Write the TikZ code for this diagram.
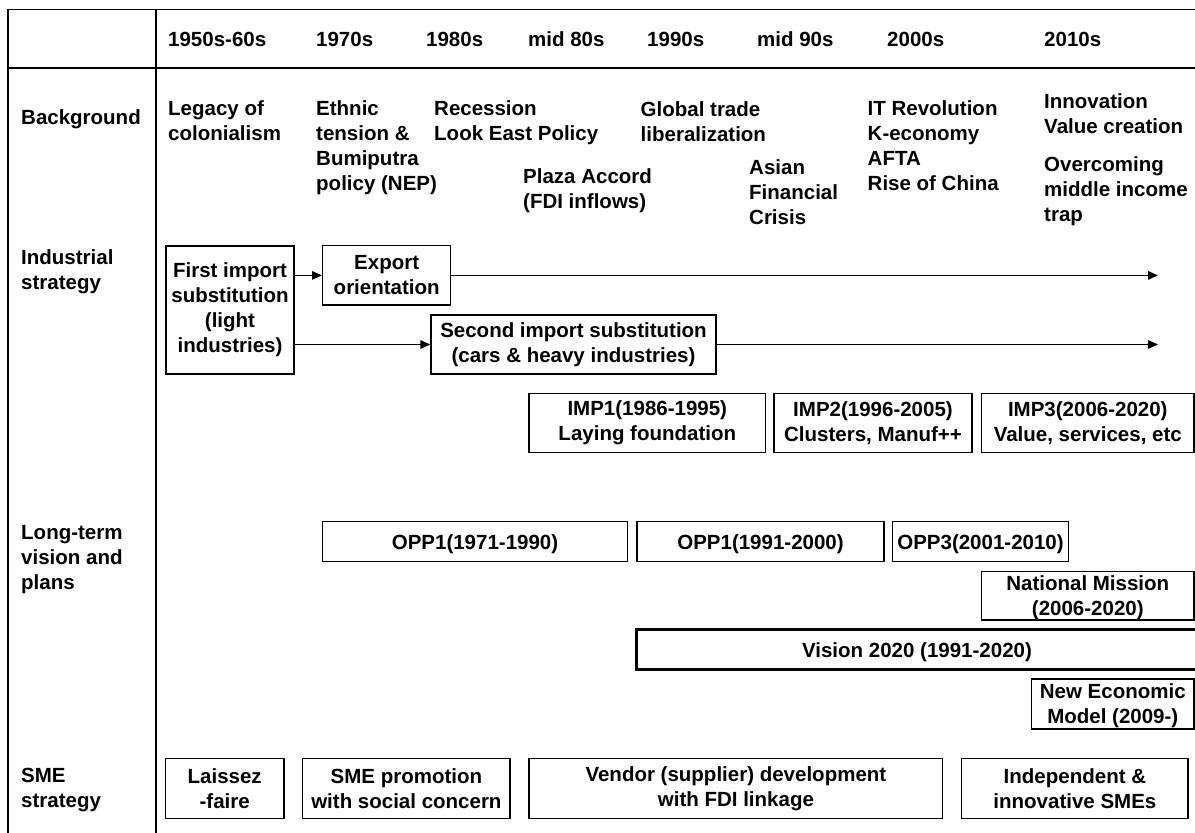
\documentclass[tikz,border=0pt]{standalone}
\usepackage{fontspec}
\setmainfont{Liberation Sans}
\usetikzlibrary{arrows.meta}
\tikzset{
  txt/.style={font=\bfseries\fontsize{20.5}{25}\selectfont, inner sep=0pt},
  lbl/.style={txt, align=left, anchor=north west},
  boxn/.style={txt, draw, line width=1.4pt, align=center, execute at begin node={\rule{0pt}{20.5pt}}},
  thickbox/.style={boxn, line width=3.5pt},
  grid/.style={line width=1.8pt},
  arr/.style={line width=1.3pt, -{Triangle[length=10pt,width=8.5pt]}}
}
\begin{document}
\begin{tikzpicture}[x=1pt,y=-1pt]
\useasboundingbox (0,0) rectangle (1195,833);
% table frame
\draw[grid] (1195,9.5) -- (8,9.5) -- (8,833);
\draw[grid] (8,68.3) -- (1195,68.3);
\draw[grid] (155.7,9.5) -- (155.7,833);
% header years
\node[lbl] (y1) at (168,29) {\strut 1950s-60s};
\node[lbl] (y2) at (316,29) {\strut 1970s};
\node[lbl] (y3) at (426,29) {\strut 1980s};
\node[lbl] (y4) at (528,29) {\strut mid 80s};
\node[lbl] (y5) at (647,29) {\strut 1990s};
\node[lbl] (y6) at (757,29) {\strut mid 90s};
\node[lbl] (y7) at (887,29) {\strut 2000s};
\node[lbl] (y8) at (1044,29) {\strut 2010s};
% row labels
\node[lbl] (rbg) at (21,106.5) {\strut Background};
\node[lbl] (rind) at (21,246.5) {\strut Industrial\\strategy};
\node[lbl] (rltv) at (21,521.5) {\strut Long-term\\vision and\\plans};
\node[lbl] (rsme) at (21,764.5) {\strut SME\\strategy};
% background texts
\node[lbl] (bleg) at (168,97.5) {\strut Legacy of\\colonialism};
\node[lbl] (beth) at (316,97.5) {\strut Ethnic\\tension \&\\Bumiputra\\policy (NEP)};
\node[lbl] (brec) at (434,97.5) {\strut Recession\\Look East Policy};
\node[lbl] (bpla) at (523,165.5) {\strut Plaza Accord\\(FDI inflows)};
\node[lbl] (bglo) at (640.5,98.5) {\strut Global trade\\liberalization};
\node[lbl] (basi) at (749,156.5) {\strut Asian\\Financial\\Crisis};
\node[lbl] (bit) at (867.5,97.5) {\strut IT Revolution\\K-economy\\AFTA\\Rise of China};
\node[lbl] (binn) at (1044,90.5) {\strut Innovation\\Value creation};
\node[lbl] (bove) at (1044,153.5) {\strut Overcoming\\middle income\\trap};
% industrial strategy
\node[boxn, minimum width=128.3, minimum height=128.3] (fis) at (230,310) {First import\\substitution\\(light\\industries)};
\node[boxn, minimum width=128, minimum height=59.3] (exp) at (386.7,275.4) {Export\\orientation};
\node[boxn, minimum width=285, minimum height=59] (sis) at (573.5,344.5) {Second import substitution\\(cars \& heavy industries)};
\coordinate (e1) at (1158,275.4);
\coordinate (e2) at (1158,344.5);
\draw[arr] (fis.east |- exp.west) -- (exp.west);
\draw[arr] (exp.east) -- (e1);
\draw[arr] (fis.east |- sis.west) -- (sis.west);
\draw[arr] (sis.east) -- (e2);
\node[boxn, minimum width=236.7, minimum height=59.4] (imp1) at (647.3,423) {IMP1(1986-1995)\\Laying foundation};
\node[boxn, minimum width=198, minimum height=59.4] (imp2) at (873,423) {IMP2(1996-2005)\\Clusters, Manuf++};
\node[boxn, minimum width=212.3, minimum height=59.4] (imp3) at (1087.8,423) {IMP3(2006-2020)\\Value, services, etc};
% long-term plans
\node[boxn, minimum width=305.4, minimum height=40] (opp1) at (475,541.7) {OPP1(1971-1990)};
\node[boxn, minimum width=247, minimum height=40] (opp2) at (760.5,541.7) {OPP1(1991-2000)};
\node[boxn, minimum width=175.6, minimum height=40] (opp3) at (980.5,541.7) {OPP3(2001-2010)};
\node[draw, line width=1.4pt, inner sep=0pt, minimum width=212.3, minimum height=48.3] (nm) at (1087.8,595.8) {};
\node[txt, align=center] (nmt) at (1087.8,598) {National Mission\\(2006-2020)};
\node[thickbox, minimum width=560.6, minimum height=40] (vis) at (917,649.5) {Vision 2020 (1991-2020)};
\node[draw, line width=1.4pt, inner sep=0pt, minimum width=162.3, minimum height=50] (nem) at (1112.8,704) {};
\node[txt, align=center] (nemt) at (1112.8,706) {New Economic\\Model (2009-)};
% SME strategy
\node[boxn, minimum width=118.7, minimum height=60] (lai) at (224.7,788.3) {Laissez\\-faire};
\node[boxn, minimum width=207.3, minimum height=60] (smp) at (406.4,788.3) {SME promotion\\with social concern};
\node[boxn, minimum width=413.7, minimum height=60] (ven) at (735.9,788.3) {Vendor (supplier) development\\with FDI linkage};
\node[boxn, minimum width=226.3, minimum height=60] (ind) at (1074.9,788.3) {Independent \&\\innovative SMEs};
\end{tikzpicture}
\end{document}
